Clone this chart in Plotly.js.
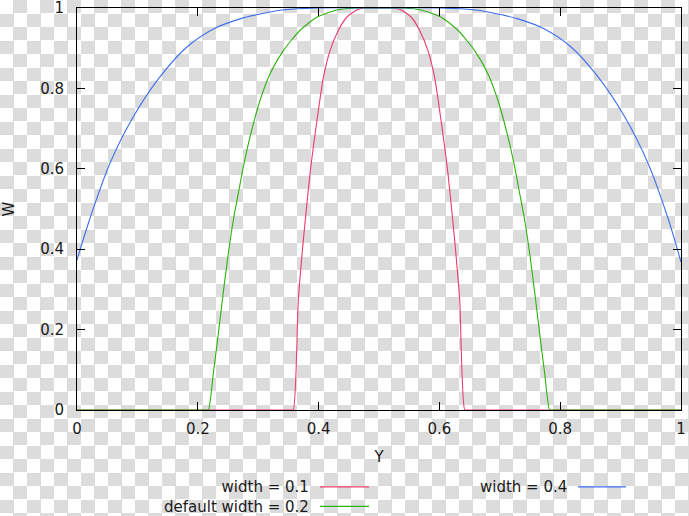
<!DOCTYPE html>
<html>
<head>
<meta charset="utf-8">
<script src="https://cdn.plot.ly/plotly-3.0.1.min.js"></script>
<style>
  html, body { margin: 0; padding: 0; }
  body {
    width: 689px; height: 516px; overflow: hidden;
    background: repeating-conic-gradient(#dcdcdc 0 25%, #ffffff 0 50%) 0 0 / 27px 27px;
  }
  #chart { width: 689px; height: 516px; }
</style>
</head>
<body>
<div id="chart"></div>
<script>
// ---- data ----
const seriesNames = ["width = 0.1", "default width = 0.2", "width = 0.4"];

const redY = [0, 0.3, 0.354, 0.358, 0.3664, 0.3747, 0.3858, 0.3996, 0.408, 0.419, 0.4326, 0.4465, 0.463, 0.477, 0.5,
              0.523, 0.537, 0.5535, 0.5674, 0.581, 0.592, 0.6004, 0.6142, 0.6253, 0.6336, 0.642, 0.646, 0.7, 1];
const redW = [0, 0, 0, 0, 0.273, 0.422, 0.588, 0.745, 0.828, 0.894, 0.944, 0.977, 0.995, 1, 1,
              1, 0.995, 0.977, 0.944, 0.894, 0.828, 0.745, 0.588, 0.422, 0.273, 0, 0, 0, 0];

const greenY = [0, 0.17, 0.2135, 0.2175, 0.2257, 0.234, 0.242, 0.2505, 0.2588, 0.267, 0.2753, 0.2864, 0.303, 0.3195,
                0.3416, 0.369, 0.397, 0.43, 0.46, 0.5, 0.54, 0.57, 0.603, 0.631, 0.6584, 0.6805, 0.697,
                0.7136, 0.7247, 0.733, 0.7412, 0.7495, 0.758, 0.766, 0.7743, 0.7825, 0.7865, 0.83, 1];
const greenW = [0, 0, 0, 0, 0.091, 0.19, 0.29, 0.389, 0.472, 0.538, 0.604, 0.679, 0.770, 0.836,
                0.894, 0.944, 0.977, 0.995, 1, 1, 1, 0.995, 0.977, 0.944, 0.894, 0.836, 0.770,
                0.679, 0.604, 0.538, 0.472, 0.389, 0.29, 0.19, 0.091, 0, 0, 0, 0];

const blueY = [0, 0.0215, 0.0546, 0.093, 0.137, 0.182, 0.226, 0.27, 0.3, 0.34, 0.4, 0.5,
               0.6, 0.66, 0.7, 0.73, 0.774, 0.818, 0.863, 0.907, 0.9454, 0.9785, 1];
const blueW = [0.373, 0.477, 0.614, 0.729, 0.828, 0.903, 0.948, 0.973, 0.984, 0.995, 1, 1,
               1, 0.995, 0.984, 0.973, 0.948, 0.903, 0.828, 0.729, 0.614, 0.477, 0.368];

const tickVals = [0, 0.2, 0.4, 0.6, 0.8, 1];
const tickText = ["0", "0.2", "0.4", "0.6", "0.8", "1"];

const xTitle = "Y";
const yTitle = "W";

// ---- styling ----
const colors = ["#ee3a6c", "#2cb30e", "#3d6ff0"];
const FONT = "DejaVu Sans, Verdana, sans-serif";
const txtColor = "#1a1a1a";

const traces = [
  {x: redY, y: redW, name: seriesNames[0], line: {color: colors[0], width: 1.1, shape: "spline", smoothing: 0.6}},
  {x: greenY, y: greenW, name: seriesNames[1], line: {color: colors[1], width: 1.1, shape: "spline", smoothing: 0.6}},
  {x: blueY, y: blueW, name: seriesNames[2], line: {color: colors[2], width: 1.1, shape: "spline", smoothing: 0.9}}
].map(t => Object.assign({type: "scatter", mode: "lines", showlegend: false, hoverinfo: "none"}, t));

// legend (gnuplot style: text right-aligned, sample to the right), in paper coords
const row1 = -0.1913, row2 = -0.2398;
const annotations = [
  {x: 0.3858, y: (row1 + row2) / 2, text: seriesNames[0] + "<br>" + seriesNames[1]},
  {x: 0.8121, y: row1, text: seriesNames[2]}
].map(a => Object.assign({
  xref: "paper", yref: "paper", showarrow: false, xanchor: "right", yanchor: "middle",
  align: "right", borderpad: 0, font: {family: FONT, size: 15, color: txtColor}
}, a));
const samples = [
  {color: colors[0], y: row1, x0: 0.4023, x1: 0.4834},
  {color: colors[1], y: row2, x0: 0.4023, x1: 0.4834},
  {color: colors[2], y: row1, x0: 0.8295, x1: 0.9089}
];
const shapes = samples.map(r => ({
  type: "line", xref: "paper", yref: "paper", x0: r.x0, x1: r.x1, y0: r.y, y1: r.y,
  line: {color: r.color, width: 1.2}
}));

const axisCommon = {
  range: [0, 1], tickmode: "array", tickvals: tickVals, ticktext: tickText,
  ticks: "inside", ticklen: 8, tickwidth: 1, tickcolor: "#000",
  showline: true, linecolor: "#000", linewidth: 1, mirror: "ticks",
  showgrid: false, zeroline: false, automargin: false, fixedrange: true,
  ticklabeloverflow: "allow",
  tickfont: {family: FONT, size: 15, color: txtColor}
};

const layout = {
  width: 689, height: 516,
  margin: {l: 77, r: 8, t: 8, b: 106, pad: 0},
  paper_bgcolor: "rgba(0,0,0,0)", plot_bgcolor: "rgba(0,0,0,0)",
  font: {family: FONT, size: 15, color: txtColor},
  xaxis: Object.assign({}, axisCommon, {
    ticklabelstandoff: 5,
    title: {text: xTitle, font: {family: FONT, size: 15, color: txtColor}, standoff: 14}
  }),
  yaxis: Object.assign({}, axisCommon, {
    ticklabelstandoff: 9,
    title: {text: yTitle, font: {family: FONT, size: 15, color: txtColor}, standoff: 22}
  }),
  annotations: annotations,
  shapes: shapes
};

Plotly.newPlot("chart", traces, layout, {staticPlot: true, displayModeBar: false});
</script>
</body>
</html>
